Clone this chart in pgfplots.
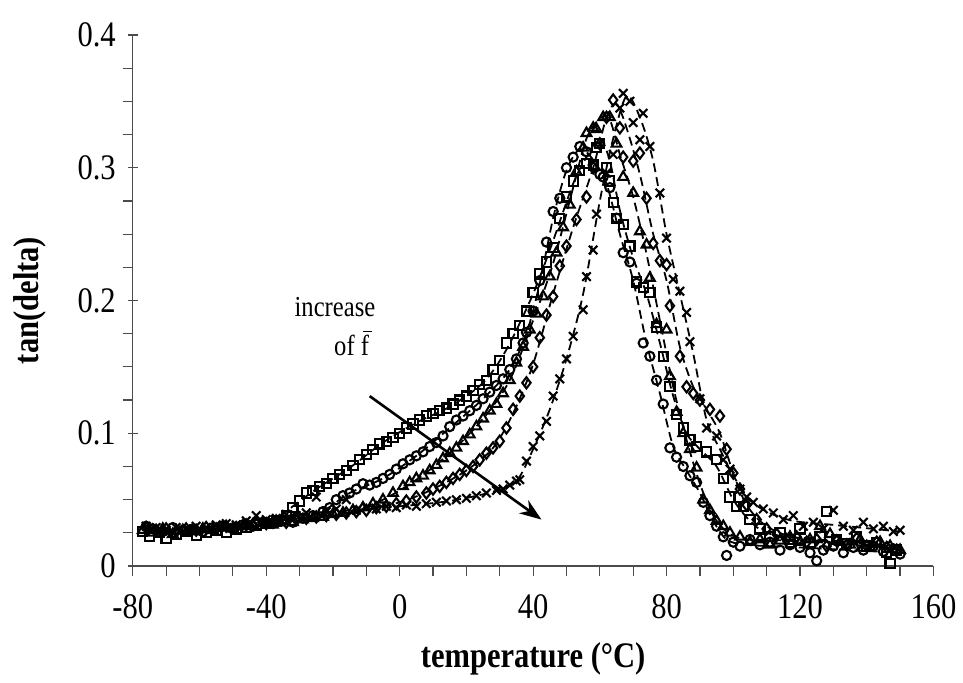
\documentclass[border=0pt]{standalone}
\usepackage{fontspec}
\setmainfont{Liberation Serif}[FakeStretch=0.85]
\usepackage{pgfplots}
\pgfplotsset{compat=1.18}
\usetikzlibrary{arrows.meta}

\begin{document}
\begin{tikzpicture}
\begin{axis}[
    width=401pt, height=266pt, scale only axis,
    xmin=-80, xmax=160, ymin=0, ymax=0.4,
    axis lines=left,
    axis line style={-, black!70, line width=0.6pt},
    clip=false,
    xtick={-80,-40,...,160},
    ytick={0,0.1,0.2,0.3,0.4},
    minor x tick num=3,
    minor y tick num=3,
    tick align=outside,
    tick style={black!70, line width=0.6pt},
    major tick length=5pt, minor tick length=5pt,
    major y tick style={xshift=2.5pt},
    /pgf/number format/assume math mode=true,
    yticklabel style={/pgf/number format/fixed},
    ticklabel style={font=\fontsize{18}{20}\selectfont},
    xticklabel style={anchor=north, yshift=-6pt},
    yticklabel style={anchor=east, xshift=0pt},
    xlabel={temperature (°C)},
    ylabel={tan(delta)},
    xlabel style={at={(axis description cs:0.5,-0.1748)}, anchor=center,
                  font=\fontsize{18}{20}\selectfont\bfseries},
    ylabel style={at={(axis description cs:-0.1284,0.5)}, anchor=center,
                  font=\fontsize{18}{20}\selectfont\bfseries},
    every axis plot/.append style={black},
]
% fitted dashed curves
\pgfplotsset{fit/.style={dash pattern=on 4.5pt off 2.5pt, line width=0.9pt, smooth, tension=0.5}}
\addplot[fit] coordinates {
(-77,0.025)(-60,0.025)(-45,0.029)(-38,0.034)(-32,0.045)(-25,0.058)(-15,0.074)(-5,0.093)
(5,0.108)(15,0.120)(25,0.138)(32,0.163)(40,0.205)(46,0.245)(52,0.288)(56,0.308)(60,0.322)
(63,0.305)(66,0.268)(70,0.232)(74,0.205)(78,0.168)(82,0.128)(86,0.100)(90,0.088)(95,0.075)
(100,0.050)(105,0.034)(110,0.025)(120,0.021)(135,0.018)(150,0.012)};
\addplot[fit] coordinates {
(-76,0.029)(-60,0.027)(-45,0.030)(-30,0.035)(-22,0.043)(-15,0.055)(-5,0.066)(5,0.083)
(15,0.104)(25,0.126)(33,0.148)(38,0.175)(42,0.213)(46,0.262)(50,0.298)(54,0.314)(58,0.306)
(62,0.288)(66,0.250)(70,0.215)(74,0.168)(78,0.130)(82,0.090)(86,0.072)(90,0.055)(94,0.034)
(98,0.020)(104,0.016)(120,0.014)(150,0.010)};
\addplot[fit] coordinates {
(-77,0.027)(-60,0.027)(-45,0.030)(-30,0.034)(-15,0.041)(-5,0.050)(5,0.065)(15,0.085)
(25,0.111)(33,0.140)(40,0.185)(46,0.228)(52,0.285)(56,0.322)(60,0.337)(63,0.336)(66,0.310)
(70,0.278)(74,0.235)(78,0.185)(82,0.135)(86,0.095)(90,0.062)(94,0.038)(98,0.026)(104,0.020)
(120,0.019)(150,0.013)};
\addplot[fit] coordinates {
(-76,0.028)(-60,0.028)(-45,0.031)(-30,0.035)(-15,0.040)(0,0.048)(10,0.058)(20,0.072)
(28,0.089)(34,0.115)(40,0.152)(46,0.205)(52,0.255)(58,0.300)(62,0.338)(65,0.348)(68,0.330)
(72,0.295)(76,0.250)(80,0.215)(84,0.165)(88,0.135)(92,0.118)(96,0.100)(100,0.070)(104,0.046)
(110,0.030)(120,0.021)(150,0.013)};
\addplot[fit] coordinates {
(-76,0.029)(-60,0.029)(-45,0.034)(-30,0.039)(-15,0.042)(0,0.045)(15,0.049)(28,0.056)
(35,0.064)(40,0.088)(45,0.118)(50,0.156)(55,0.205)(60,0.275)(64,0.322)(68,0.354)(72,0.338)
(76,0.305)(80,0.250)(84,0.205)(88,0.160)(92,0.110)(96,0.088)(100,0.068)(105,0.050)(110,0.041)
(118,0.034)(130,0.031)(150,0.026)};

% measured points
\pgfplotsset{pts/.style={only marks, mark options={line width=1.05pt, solid, fill=none}}}
% squares
\addplot[pts, mark=square, mark size=2.3pt] coordinates {
(-77,0.026)(-75,0.022)(-72,0.025)(-70,0.021)(-67,0.024)(-64,0.026)(-61,0.023)(-58,0.025)
(-55,0.027)(-52,0.025)(-49,0.028)(-46,0.029)(-43,0.031)(-40,0.032)(-37,0.034)(-34,0.038)
(-32,0.044)(-30,0.049)(-28,0.055)(-26,0.057)(-24,0.060)(-22,0.062)(-20,0.066)(-18,0.069)
(-16,0.072)(-14,0.076)(-12,0.080)(-10,0.084)(-8,0.088)(-6,0.092)(-4,0.094)(-2,0.097)
(0,0.100)(2,0.104)(4,0.107)(6,0.110)(8,0.113)(10,0.115)(12,0.117)(14,0.119)(16,0.122)
(18,0.125)(20,0.128)(22,0.132)(24,0.137)(26,0.140)(28,0.148)(30,0.155)(32,0.168)(34,0.175)
(36,0.181)(38,0.192)(40,0.206)(42,0.220)(44,0.229)(46,0.240)(48,0.262)(50,0.278)(52,0.290)
(54,0.298)(56,0.303)(58,0.302)(59,0.315)(60,0.318)(62,0.300)(63,0.290)(64,0.274)(65,0.262)
(67,0.257)(69,0.241)(71,0.214)(73,0.210)(75,0.206)(77,0.180)(79,0.158)(81,0.135)(83,0.114)
(85,0.104)(87,0.095)(89,0.090)(92,0.086)(95,0.080)(97,0.066)(99,0.052)(101,0.045)(103,0.045)
(105,0.035)(108,0.028)(111,0.022)(114,0.025)(117,0.020)(120,0.028)(123,0.018)(126,0.022)
(128,0.041)(131,0.020)(134,0.017)(137,0.022)(140,0.015)(143,0.018)(146,0.010)(147,0.002)
(149,0.012)};
% circles
\addplot[pts, mark=o, mark size=2.3pt] coordinates {
(-76,0.030)(-74,0.028)(-71,0.026)(-68,0.029)(-65,0.027)(-62,0.028)(-59,0.026)(-56,0.029)
(-53,0.030)(-50,0.028)(-47,0.031)(-44,0.030)(-41,0.033)(-38,0.032)(-35,0.034)(-32,0.033)
(-29,0.036)(-26,0.038)(-23,0.041)(-21,0.044)(-19,0.050)(-17,0.053)(-15,0.055)(-13,0.058)
(-11,0.062)(-9,0.061)(-7,0.063)(-5,0.066)(-3,0.069)(-1,0.073)(1,0.077)(3,0.080)(5,0.083)
(7,0.086)(9,0.090)(11,0.093)(13,0.098)(15,0.105)(17,0.110)(19,0.113)(21,0.117)(23,0.121)
(25,0.126)(27,0.131)(29,0.136)(31,0.141)(33,0.148)(35,0.156)(37,0.168)(38,0.176)(40,0.192)
(42,0.215)(44,0.244)(46,0.267)(48,0.277)(50,0.300)(52,0.308)(54,0.316)(56,0.312)(58,0.302)
(60,0.295)(61,0.293)(63,0.285)(65,0.262)(67,0.236)(69,0.229)(71,0.213)(73,0.168)(75,0.158)
(77,0.140)(79,0.122)(81,0.089)(83,0.082)(85,0.075)(87,0.068)(89,0.063)(91,0.048)(93,0.038)
(95,0.030)(97,0.022)(98,0.008)(100,0.018)(102,0.015)(105,0.020)(108,0.016)(111,0.018)
(114,0.012)(117,0.016)(120,0.014)(123,0.010)(125,0.004)(127,0.012)(130,0.015)(133,0.010)
(136,0.014)(139,0.012)(142,0.015)(145,0.011)(148,0.013)(150,0.009)};
% triangles
\addplot[pts, mark=triangle, mark size=2.8pt] coordinates {
(-77,0.027)(-74,0.025)(-71,0.028)(-68,0.024)(-65,0.027)(-62,0.026)(-59,0.028)(-56,0.027)
(-53,0.029)(-50,0.028)(-47,0.030)(-44,0.031)(-41,0.032)(-38,0.031)(-35,0.034)(-32,0.033)
(-29,0.035)(-26,0.036)(-23,0.037)(-20,0.039)(-17,0.040)(-14,0.042)(-11,0.044)(-8,0.047)
(-5,0.050)(-2,0.055)(1,0.060)(3,0.063)(5,0.066)(7,0.068)(9,0.072)(11,0.076)(13,0.081)
(15,0.085)(17,0.089)(19,0.094)(21,0.099)(23,0.105)(25,0.111)(27,0.117)(29,0.122)(31,0.130)
(33,0.140)(35,0.153)(37,0.165)(39,0.178)(41,0.190)(43,0.203)(45,0.218)(47,0.236)(49,0.255)
(51,0.272)(53,0.297)(55,0.315)(56,0.326)(58,0.330)(59,0.329)(61,0.338)(63,0.338)(65,0.318)
(67,0.293)(70,0.281)(72,0.252)(74,0.242)(75,0.217)(77,0.182)(80,0.178)(81,0.143)(83,0.116)
(85,0.100)(87,0.088)(89,0.074)(91,0.050)(93,0.042)(95,0.034)(97,0.030)(99,0.025)(102,0.022)
(105,0.018)(108,0.020)(111,0.016)(114,0.019)(117,0.022)(120,0.018)(123,0.020)(126,0.030)
(129,0.024)(132,0.018)(135,0.016)(138,0.020)(141,0.014)(144,0.018)(147,0.015)(150,0.012)};
% diamonds
\addplot[pts, mark=diamond, mark size=2.8pt] coordinates {
(-76,0.029)(-73,0.027)(-70,0.028)(-67,0.026)(-64,0.028)(-61,0.027)(-58,0.029)(-55,0.028)
(-52,0.030)(-49,0.029)(-46,0.031)(-43,0.032)(-40,0.032)(-37,0.034)(-34,0.033)(-31,0.035)
(-28,0.036)(-25,0.037)(-22,0.038)(-19,0.039)(-16,0.040)(-13,0.041)(-10,0.042)(-7,0.044)
(-4,0.045)(-1,0.047)(2,0.049)(5,0.052)(8,0.055)(10,0.058)(12,0.060)(14,0.063)(16,0.066)
(18,0.069)(20,0.072)(22,0.075)(24,0.080)(26,0.085)(28,0.089)(30,0.094)(32,0.104)(34,0.118)
(36,0.128)(38,0.138)(40,0.150)(42,0.172)(44,0.189)(46,0.203)(48,0.226)(50,0.241)(53,0.261)
(56,0.278)(58,0.300)(60,0.318)(62,0.338)(64,0.351)(66,0.330)(67,0.308)(70,0.305)(72,0.311)
(74,0.277)(76,0.243)(78,0.230)(80,0.227)(81,0.196)(84,0.158)(86,0.135)(88,0.130)(90,0.125)
(93,0.118)(96,0.113)(98,0.088)(100,0.070)(102,0.058)(104,0.046)(107,0.035)(110,0.028)
(113,0.024)(116,0.020)(119,0.022)(122,0.018)(125,0.020)(128,0.015)(131,0.019)(134,0.016)
(137,0.021)(140,0.015)(143,0.018)(146,0.014)(149,0.012)};
% crosses
\addplot[pts, mark=x, mark size=3pt] coordinates {
(-76,0.030)(-73,0.029)(-70,0.027)(-67,0.029)(-64,0.028)(-61,0.030)(-58,0.029)(-55,0.031)
(-52,0.032)(-49,0.031)(-46,0.034)(-43,0.038)(-40,0.035)(-37,0.036)(-34,0.039)(-31,0.038)
(-28,0.040)(-25,0.052)(-22,0.041)(-19,0.043)(-16,0.050)(-13,0.042)(-10,0.044)(-7,0.043)
(-4,0.045)(-1,0.044)(2,0.046)(5,0.045)(8,0.047)(11,0.048)(14,0.049)(17,0.050)(20,0.051)
(23,0.053)(26,0.055)(29,0.057)(31,0.058)(33,0.061)(35,0.064)(36,0.065)(38,0.079)(40,0.090)
(42,0.098)(44,0.109)(46,0.128)(48,0.141)(50,0.156)(52,0.173)(55,0.193)(56,0.218)(58,0.238)
(59,0.265)(62,0.296)(64,0.310)(66,0.345)(67,0.356)(69,0.350)(70,0.334)(72,0.321)(73,0.341)
(75,0.316)(78,0.281)(80,0.247)(82,0.216)(84,0.207)(86,0.191)(87,0.169)(90,0.126)(92,0.104)
(95,0.098)(97,0.080)(99,0.073)(102,0.058)(104,0.052)(106,0.048)(109,0.043)(112,0.040)
(115,0.035)(118,0.038)(121,0.030)(124,0.033)(127,0.028)(130,0.042)(133,0.030)(136,0.027)
(139,0.033)(142,0.028)(145,0.030)(148,0.026)(150,0.027)};

\draw[-{Stealth[length=11pt,width=8pt]}, line width=1.3pt] (axis cs:-9,0.128) -- (axis cs:42.5,0.035);
\node[font=\fontsize{14.5}{16}\selectfont, inner sep=0.5pt] at (axis cs:-19.4,0.195) {increase};
\node[font=\fontsize{14.5}{16}\selectfont, inner sep=0.5pt] at (axis cs:-14.4,0.168)
     {of \rlap{\hspace{0.08em}\rule[0.8em]{0.32em}{0.05em}}f};
\coordinate (bl) at (rel axis cs:0,0);
\coordinate (tr) at (rel axis cs:1,1);
\end{axis}
\path ([shift={(-66.5pt,-58.5pt)}]bl) rectangle ([shift={(14pt,17.5pt)}]tr);
\end{tikzpicture}
\end{document}
